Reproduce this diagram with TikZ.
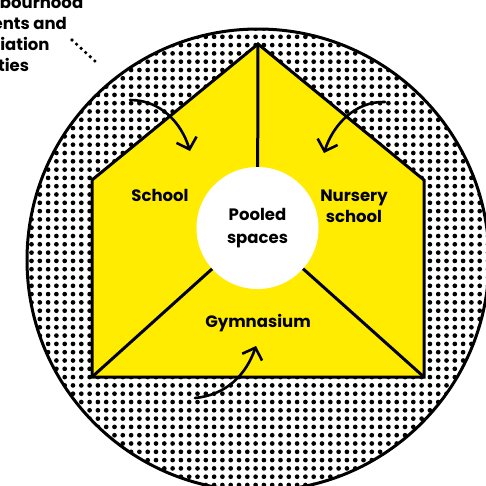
\documentclass[tikz,border=0pt]{standalone}
\usepackage{fontspec}
\setmainfont{Poppins}
\usetikzlibrary{arrows.meta}
\definecolor{hyellow}{RGB}{255,236,0}
\tikzset{
  outline/.style={line width=3pt, line join=miter},
  lbl/.style={font=\fontsize{16.5}{21}\selectfont\bfseries, align=center, inner sep=0pt},
  curvearrow/.style={line width=2.6pt, line cap=round, -{Straight Barb[length=10pt,width=21pt,line width=2.6pt]}},
  leader/.style={line width=3.6pt, line cap=round, dash pattern=on 0pt off 6.2pt},
}
\begin{document}
\begin{tikzpicture}[x=1pt,y=-1pt]
\useasboundingbox (0,0) rectangle (486,485);
\begin{scope}
\clip (0,0) rectangle (486,485);
% coordinates
\coordinate (cc) at (258,260);
\coordinate (apex) at (258,44);
\coordinate (rs) at (424,180);
\coordinate (br) at (424,377);
\coordinate (bl) at (92,377);
\coordinate (ls) at (92,180);
\coordinate (pc) at (257.5,228);
% big circle with dots
\fill[white] (cc) circle (231);
\begin{scope}
  \clip (cc) circle (231);
  \foreach \i in {0,...,58} {
    \foreach \j in {0,...,58} {
      \fill (6.6+\i*8.3, 3.6+\j*8.3) circle (2.35);
    }
  }
\end{scope}
\draw[outline] (cc) circle (231);
% house
\filldraw[outline, fill=hyellow] (apex) -- (rs) -- (br) -- (bl) -- (ls) -- cycle;
\draw[outline] (apex) -- (pc);
\draw[outline] (bl) -- (pc);
\draw[outline] (br) -- (pc);
\node[circle, fill=white, minimum size=122pt, inner sep=0pt] (pooled) at (pc) {};
\node[lbl, font=\fontsize{16.5}{23}\selectfont\bfseries] (pooledtxt) at (pc) {Pooled\\spaces};
\node[lbl] (school) at (160,195) {School};
\node[lbl] (nursery) at (354,206) {Nursery\\school};
\node[lbl] (gym) at (258,323) {Gymnasium};
% arrows
\coordinate (a1s) at (130,100);
\coordinate (a1e) at (190,151);
\draw[curvearrow] (a1s) .. controls (160,100) and (181,122) .. (a1e);
\coordinate (a2s) at (385,102);
\coordinate (a2e) at (324,153);
\draw[curvearrow] (a2s) .. controls (355,101) and (333,125) .. (a2e);
\coordinate (a3s) at (195,398);
\coordinate (a3e) at (256,346);
\draw[curvearrow] (a3s) .. controls (226,395) and (246,375) .. (a3e);
% external label
\node[lbl, align=left, anchor=north west] (ext) at (-50,-5) {Neighbourhood\\residents and\\association\\activities};
\coordinate (ld1) at (72,40);
\coordinate (ld2) at (97,63);
\draw[leader] (ld1) -- (ld2);
\end{scope}
\end{tikzpicture}
\end{document}
